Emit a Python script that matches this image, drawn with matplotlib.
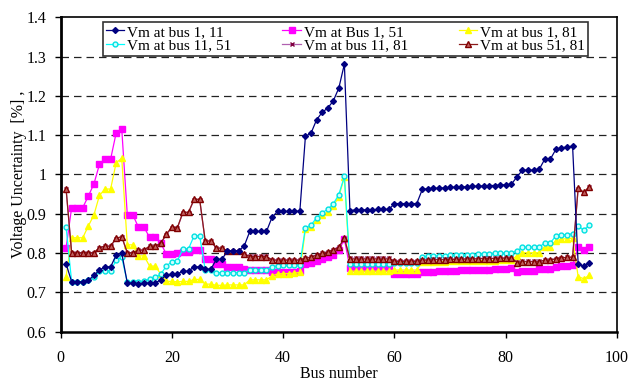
import matplotlib
matplotlib.use("Agg")
import numpy as np
from matplotlib import pyplot as plt

plt.rcParams['font.family'] = ['Liberation Serif', 'DejaVu Serif']

bus = list(range(1, 96))

# Vm at bus 1, 11
vm_1_11 = [0.773, 0.727, 0.727, 0.727, 0.731, 0.743, 0.757, 0.765, 0.765, 0.795,
           0.800, 0.724, 0.723, 0.722, 0.723, 0.724, 0.725, 0.731, 0.745, 0.746,
           0.747, 0.754, 0.754, 0.765, 0.765, 0.759, 0.759, 0.784, 0.784, 0.806,
           0.806, 0.806, 0.818, 0.855, 0.855, 0.855, 0.855, 0.891, 0.906, 0.906,
           0.906, 0.906, 0.907, 1.097, 1.105, 1.139, 1.158, 1.169, 1.187, 1.220,
           1.281, 0.908, 0.910, 0.910, 0.910, 0.910, 0.911, 0.911, 0.911, 0.926,
           0.926, 0.926, 0.926, 0.926, 0.962, 0.964, 0.965, 0.965, 0.966, 0.967,
           0.968, 0.968, 0.969, 0.970, 0.970, 0.971, 0.972, 0.972, 0.973, 0.974,
           0.975, 0.994, 1.011, 1.011, 1.011, 1.013, 1.039, 1.039, 1.064, 1.068,
           1.070, 1.072, 0.772, 0.767, 0.776]

# Vm at Bus 1, 51
vm_1_51 = [0.813, 0.916, 0.916, 0.916, 0.945, 0.976, 1.026, 1.039, 1.039, 1.106,
           1.116, 0.897, 0.897, 0.866, 0.866, 0.840, 0.840, 0.825, 0.798, 0.798,
           0.800, 0.803, 0.803, 0.809, 0.809, 0.786, 0.786, 0.772, 0.772, 0.765,
           0.765, 0.765, 0.760, 0.757, 0.757, 0.757, 0.757, 0.752, 0.752, 0.752,
           0.752, 0.753, 0.755, 0.771, 0.774, 0.780, 0.785, 0.790, 0.795, 0.807,
           0.835, 0.762, 0.762, 0.762, 0.762, 0.762, 0.762, 0.762, 0.762, 0.748,
           0.748, 0.748, 0.748, 0.748, 0.752, 0.753, 0.753, 0.754, 0.754, 0.755,
           0.755, 0.756, 0.756, 0.757, 0.757, 0.758, 0.758, 0.759, 0.759, 0.760,
           0.761, 0.753, 0.755, 0.755, 0.755, 0.759, 0.760, 0.760, 0.765, 0.767,
           0.768, 0.769, 0.815, 0.809, 0.816]

# Vm at bus 1, 81
vm_1_81 = [0.740, 0.839, 0.839, 0.839, 0.869, 0.897, 0.947, 0.963, 0.963, 1.030,
           1.041, 0.821, 0.821, 0.793, 0.793, 0.767, 0.767, 0.747, 0.728, 0.728,
           0.727, 0.728, 0.728, 0.733, 0.733, 0.721, 0.721, 0.718, 0.718, 0.719,
           0.719, 0.719, 0.719, 0.732, 0.732, 0.732, 0.732, 0.742, 0.747, 0.748,
           0.748, 0.749, 0.751, 0.861, 0.867, 0.885, 0.897, 0.904, 0.919, 0.944,
           0.993, 0.754, 0.754, 0.754, 0.754, 0.754, 0.754, 0.754, 0.754, 0.757,
           0.757, 0.757, 0.757, 0.757, 0.777, 0.777, 0.778, 0.778, 0.778, 0.779,
           0.779, 0.779, 0.780, 0.780, 0.780, 0.781, 0.781, 0.781, 0.782, 0.782,
           0.782, 0.793, 0.801, 0.801, 0.801, 0.801, 0.816, 0.816, 0.832, 0.835,
           0.837, 0.838, 0.740, 0.735, 0.743]

# Vm at bus 11, 51
vm_11_51 = [0.867, 0.727, 0.726, 0.726, 0.732, 0.740, 0.754, 0.755, 0.755, 0.782,
            0.789, 0.726, 0.726, 0.727, 0.729, 0.734, 0.738, 0.746, 0.767, 0.778,
            0.780, 0.811, 0.811, 0.844, 0.844, 0.757, 0.757, 0.750, 0.750, 0.750,
            0.750, 0.750, 0.750, 0.757, 0.757, 0.757, 0.757, 0.765, 0.768, 0.769,
            0.769, 0.769, 0.770, 0.865, 0.871, 0.890, 0.903, 0.911, 0.925, 0.949,
            0.995, 0.771, 0.773, 0.773, 0.773, 0.773, 0.773, 0.773, 0.773, 0.776,
            0.776, 0.776, 0.776, 0.776, 0.791, 0.792, 0.792, 0.793, 0.793, 0.794,
            0.795, 0.795, 0.796, 0.796, 0.797, 0.798, 0.798, 0.799, 0.800, 0.800,
            0.801, 0.805, 0.815, 0.815, 0.815, 0.815, 0.826, 0.826, 0.844, 0.846,
            0.847, 0.849, 0.869, 0.858, 0.871]

# Vm at bus 11, 81
vm_11_81 = [0.962, 0.800, 0.800, 0.800, 0.800, 0.800, 0.813, 0.817, 0.817, 0.837,
            0.841, 0.800, 0.800, 0.807, 0.807, 0.817, 0.817, 0.824, 0.847, 0.865,
            0.864, 0.903, 0.903, 0.936, 0.936, 0.830, 0.830, 0.812, 0.812, 0.806,
            0.806, 0.806, 0.798, 0.792, 0.792, 0.792, 0.792, 0.783, 0.783, 0.783,
            0.783, 0.783, 0.783, 0.788, 0.790, 0.796, 0.800, 0.804, 0.809, 0.816,
            0.836, 0.787, 0.787, 0.787, 0.787, 0.787, 0.787, 0.787, 0.787, 0.781,
            0.781, 0.781, 0.781, 0.781, 0.783, 0.783, 0.784, 0.784, 0.784, 0.785,
            0.785, 0.785, 0.786, 0.786, 0.786, 0.787, 0.787, 0.787, 0.788, 0.788,
            0.788, 0.777, 0.779, 0.779, 0.779, 0.779, 0.782, 0.782, 0.786, 0.788,
            0.789, 0.790, 0.964, 0.953, 0.967]

# Vm at bus 51, 81
vm_51_81 = [0.964, 0.801, 0.801, 0.801, 0.801, 0.801, 0.814, 0.818, 0.818, 0.838,
            0.842, 0.801, 0.801, 0.808, 0.808, 0.818, 0.818, 0.825, 0.848, 0.866,
            0.865, 0.904, 0.904, 0.937, 0.937, 0.831, 0.831, 0.813, 0.813, 0.806,
            0.806, 0.806, 0.798, 0.791, 0.791, 0.791, 0.791, 0.782, 0.782, 0.782,
            0.782, 0.782, 0.782, 0.787, 0.789, 0.795, 0.799, 0.803, 0.808, 0.815,
            0.838, 0.785, 0.785, 0.785, 0.785, 0.785, 0.785, 0.785, 0.785, 0.779,
            0.779, 0.779, 0.779, 0.779, 0.782, 0.782, 0.783, 0.783, 0.783, 0.784,
            0.784, 0.784, 0.785, 0.785, 0.785, 0.786, 0.786, 0.786, 0.787, 0.787,
            0.787, 0.776, 0.778, 0.778, 0.778, 0.778, 0.782, 0.782, 0.786, 0.788,
            0.789, 0.790, 0.966, 0.955, 0.969]

fig = plt.figure(figsize=(6.31, 3.81), dpi=100)
ax = fig.add_axes([0.0959, 0.1294, 0.8821, 0.8252])

for y in np.arange(0.7, 1.31, 0.1):
    ax.axhline(y, color='#222222', lw=0.9, ls=(0, (6, 4)), zorder=0)

l1, = ax.plot(bus, vm_1_11, color='#000080', lw=0.9, marker='D', ms=3,
              mfc='#000080', mec='#000080', label='Vm at bus 1, 11', zorder=3)
l2, = ax.plot(bus, vm_1_51, color='#FF00FF', lw=0.9, marker='s', ms=4.5,
              mfc='#FF00FF', mec='#FF00FF', label='Vm at Bus 1, 51', zorder=2)
l3, = ax.plot(bus, vm_1_81, color='#FFFF00', lw=0.9, marker='^', ms=4.5,
              mfc='#FFFF00', mec='#FFFF00', label='Vm at bus 1, 81', zorder=2)
l4, = ax.plot(bus, vm_11_51, color='#00FFFF', lw=0.9, marker='o', ms=3.5,
              mfc='#CCFFFF', mec='#00E0E0', mew=1, label='Vm at bus 11, 51', zorder=2)
l5, = ax.plot(bus, vm_11_81, color='#B060B0', lw=0.9, marker='x', ms=3.5,
              mec='#800040', mew=1, label='Vm at bus 11, 81', zorder=2)
l6, = ax.plot(bus, vm_51_81, color='#8B1A1A', lw=0.9, marker='^', ms=4,
              mfc='#C06060', mec='#800000', mew=1, label='Vm at bus 51, 81', zorder=2)

ax.set_xlim(0, 100)
ax.set_ylim(0.6, 1.4)
ax.set_xticks([0, 20, 40, 60, 80, 100])
ax.set_yticks([0.6, 0.7, 0.8, 0.9, 1.0, 1.1, 1.2, 1.3, 1.4])
ax.set_yticklabels(['0.6', '0.7', '0.8', '0.9', '1', '1.1', '1.2', '1.3', '1.4'])
ax.tick_params(axis='both', direction='out', length=4, width=1, labelsize=11.5, pad=6)
ax.tick_params(axis='x', pad=9)

ax.spines['left'].set_linewidth(2)
ax.spines['bottom'].set_linewidth(1.8)
ax.spines['top'].set_linewidth(1.2)
ax.spines['right'].set_linewidth(1.2)

ax.set_xlabel('Bus number', fontsize=11.5, labelpad=0)
ax.set_ylabel('Voltage Uncertainty  [%] ,', fontsize=11.5, labelpad=0)

# legend box stretched over the same span as in the source figure
leg = ax.legend(handles=[l1, l4, l2, l5, l3, l6], ncol=3, loc='upper left',
                bbox_to_anchor=(0.0764, 0.0, 0.8715, 0.985), mode='expand',
                fontsize=11, frameon=True, fancybox=False, edgecolor='black',
                handlelength=1.2, handletextpad=0.2, columnspacing=2.3,
                borderpad=0.2, borderaxespad=0, labelspacing=0.0)
leg.get_frame().set_linewidth(1.2)

fig.savefig('out.png', dpi=100)
